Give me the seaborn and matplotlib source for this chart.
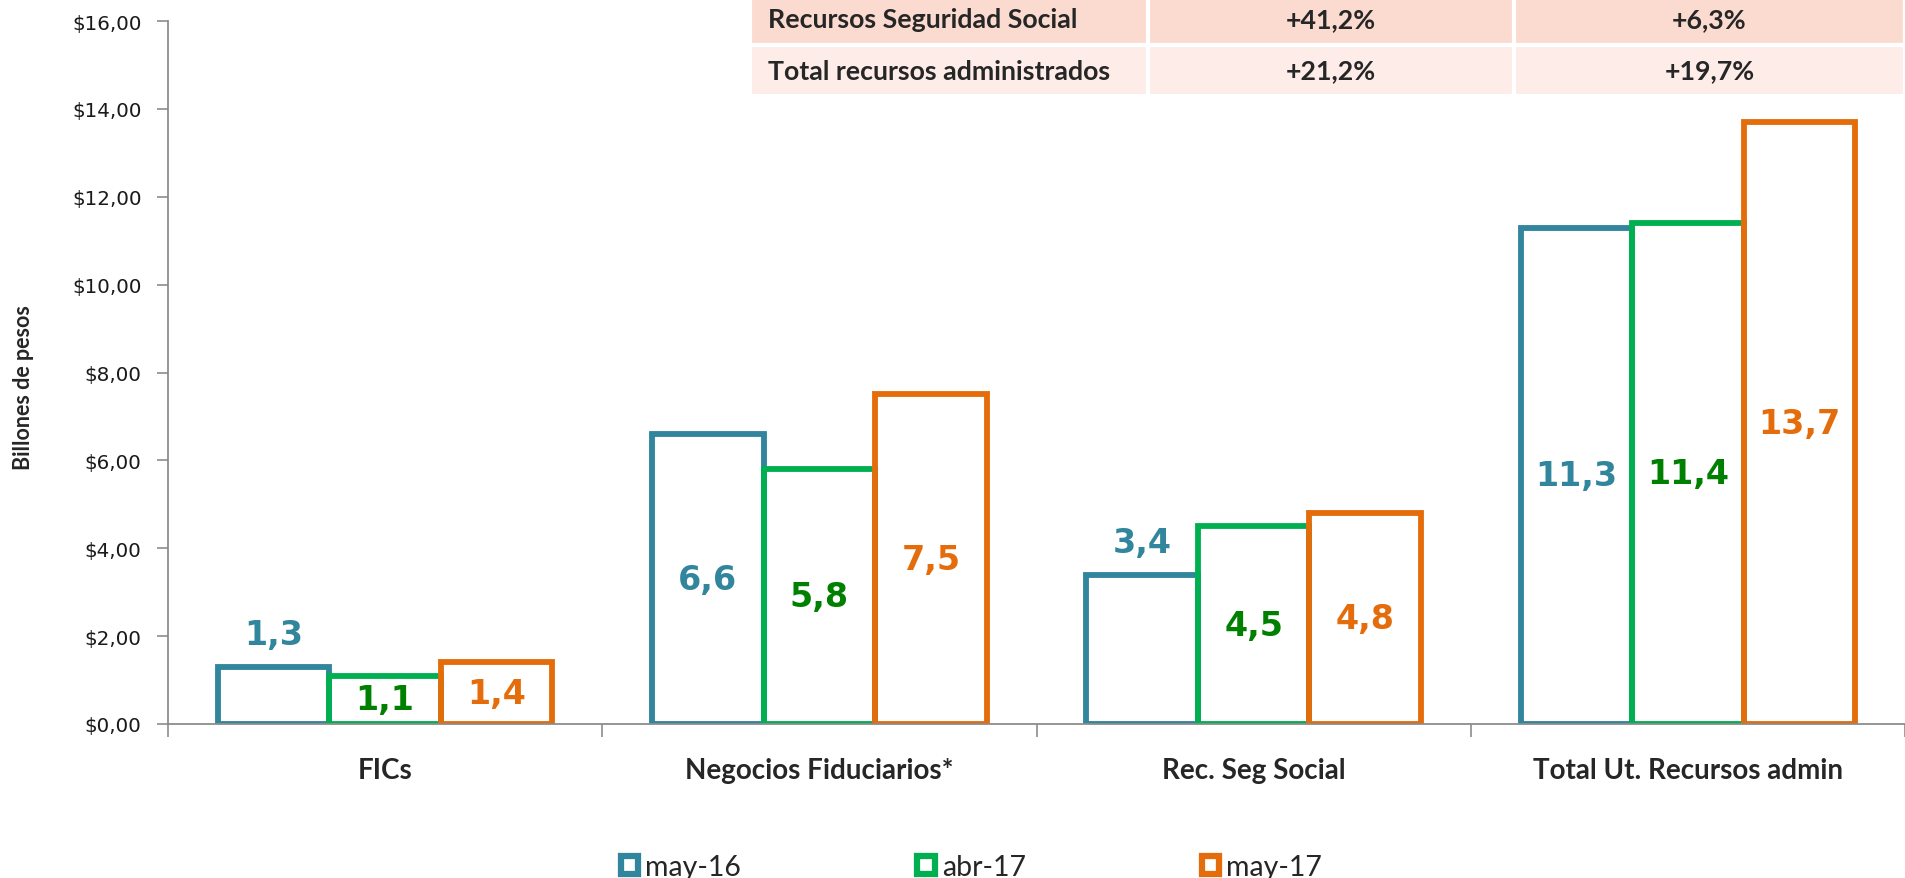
"""Recursos administrados: barras sin relleno por periodo, con tabla de variaciones."""
import matplotlib
matplotlib.use("Agg")
import matplotlib.pyplot as plt
import matplotlib.ticker as mticker
from matplotlib.patches import Patch
import pandas as pd
import seaborn as sns

CATEGORIES = ["FICs", "Negocios Fiduciarios*", "Rec. Seg Social", "Total Ut. Recursos admin"]
PERIODS = ["may-16", "abr-17", "may-17"]
MAY16 = [1.3, 6.6, 3.4, 11.3]
ABR17 = [1.1, 5.8, 4.5, 11.4]
MAY17 = [1.4, 7.5, 4.8, 13.7]

TABLE_LABELS = ["Recursos Seguridad Social", "Total recursos administrados"]
TABLE_VAR_A = ["+41,2%", "+21,2%"]
TABLE_VAR_B = ["+6,3%", "+19,7%"]

EDGE = {"may-16": "#31859C", "abr-17": "#00B050", "may-17": "#E46C0A"}
TEXT = {"may-16": "#31859C", "abr-17": "#008000", "may-17": "#E46C0A"}
OUTSIDE = {("may-16", "FICs"), ("may-16", "Rec. Seg Social")}
AXIS_GRAY = "#8C8C8C"

sns.set_style("white")
plt.rcParams["font.family"] = ["Lato", "DejaVu Sans"]

df = pd.DataFrame({
    "categoria": CATEGORIES * 3,
    "periodo": [p for p in PERIODS for _ in CATEGORIES],
    "valor": MAY16 + ABR17 + MAY17,
})

W, H = 1905, 879
fig = plt.figure(figsize=(W / 100, H / 100), dpi=100)
ax = fig.add_axes([168 / W, 1 - 725 / H, (W - 168) / W, 703 / H])

sns.barplot(
    data=df, x="categoria", y="valor", hue="periodo",
    order=CATEGORIES, hue_order=PERIODS, palette=EDGE,
    fill=False, width=0.77, gap=0, linewidth=4.2,
    errorbar=None, legend=False, ax=ax,
)

# value labels, decimal comma
for container, period in zip(ax.containers, PERIODS):
    for bar, cat in zip(container, CATEGORIES):
        h = bar.get_height()
        x = bar.get_x() + bar.get_width() / 2
        txt = f"{h:.1f}".replace(".", ",")
        if (period, cat) in OUTSIDE:
            ax.annotate(txt, (x, h), xytext=(0, 23), textcoords="offset points",
                        ha="center", va="center", fontsize=24, fontweight="bold",
                        color=TEXT[period], family="DejaVu Sans")
        else:
            ax.text(x, h / 2, txt, ha="center", va="center", fontsize=24,
                    fontweight="bold", color=TEXT[period], family="DejaVu Sans")

ax.set_ylim(0, 16)
ax.set_xlim(-0.5, 3.5 - 7 / 436)
ax.set_yticks(range(0, 17, 2))
ax.yaxis.set_major_formatter(mticker.FuncFormatter(lambda v, _: f"\\${v:.2f}".replace(".", ",")))
for lbl in ax.get_yticklabels():
    lbl.set_family("DejaVu Sans")
ax.tick_params(axis="y", length=8, width=1.2, color=AXIS_GRAY, pad=11, labelsize=14.3,
               labelcolor="#1a1a1a", left=True)

ax.set_xticks(range(len(CATEGORIES)))
ax.set_xticklabels(CATEGORIES, fontsize=20, fontweight="bold")
ax.tick_params(axis="x", length=0, pad=24)
ax.set_xticks([-0.5, 0.5, 1.5, 2.5, 3.5], minor=True)
ax.tick_params(axis="x", which="minor", length=9, width=1.2, color=AXIS_GRAY, bottom=True)

ax.set_xlabel("")
ax.set_ylabel("Billones de pesos", fontsize=15.5, fontweight="bold")
ax.yaxis.set_label_coords(-0.077, 0.48)

for side in ["top", "right"]:
    ax.spines[side].set_visible(False)
for side in ["left", "bottom"]:
    ax.spines[side].set_color(AXIS_GRAY)
    ax.spines[side].set_linewidth(1.3)

# variation table, top right (top row partly cut by the figure edge)
tax = fig.add_axes([750 / W, 1 - 97 / H, (W - 750) / W, 102 / H])
tax.axis("off")
cell_text = [[a, b, c] for a, b, c in zip(TABLE_LABELS, TABLE_VAR_A, TABLE_VAR_B)]
row_fill = ["#FBDBCF", "#FDECE7"]
table = tax.table(
    cellText=cell_text,
    cellColours=[[c] * 3 for c in row_fill],
    colWidths=[398, 366, 391],
    cellLoc="center",
    bbox=[0, 0, 1, 1],
)
table.auto_set_font_size(False)
for (r, c), cell in table.get_celld().items():
    cell.set_edgecolor("white")
    cell.set_linewidth(3)
    cell.get_text().set_fontsize(19.3)
    cell.get_text().set_fontweight("bold")
    if c == 0:
        cell._loc = "left"
        cell.PAD = 0.045
        cell.get_text().set_horizontalalignment("left")

handles = [Patch(facecolor="white", edgecolor=EDGE[p], linewidth=4.5, label=p) for p in PERIODS]
fig.legend(handles=handles, loc="center", bbox_to_anchor=(0.51, 0.012), ncol=3,
           frameon=False, prop={"family": "Lato", "size": 20.5},
           handlelength=0.6, handleheight=0.6, handletextpad=0.25, columnspacing=6.2)

fig.savefig("out.png", dpi=100)
